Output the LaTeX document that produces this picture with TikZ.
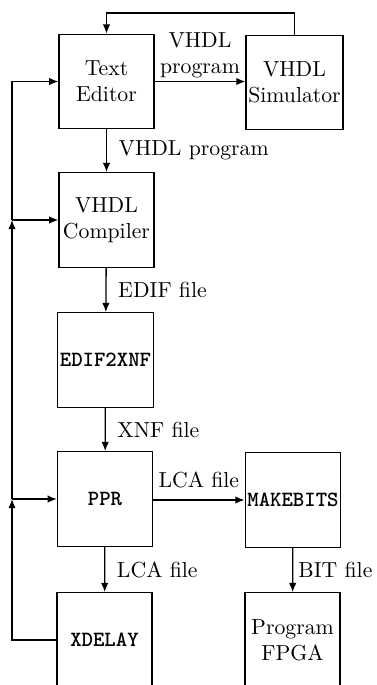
\documentclass[tikz,border=0pt]{standalone}
\usepackage{tikz}
\usetikzlibrary{arrows.meta,positioning,calc}

\begin{document}
\begin{tikzpicture}[x=0.46pt, y=-0.46pt,
    stage/.style={draw, line width=0.6pt, minimum width=43.7pt, minimum height=43.5pt, align=center, inner sep=1pt},
    tool/.style={stage, font=\ttfamily\bfseries},
    flow/.style={line width=0.6pt, -{Latex[length=4.2pt,width=3.4pt]}},
    wire/.style={line width=0.6pt}]
  \useasboundingbox (0,0) rectangle (376,685);
  \clip (0,0) rectangle (376,685);
  \node[stage] (editor) at (106.5,81.5) {Text\\Editor};
  \node[stage] (sim) at (294.5,82.5) {VHDL\\Simulator};
  \node[stage] (comp) at (106.5,220) {VHDL\\Compiler};
  \node[tool] (edif) at (105.5,360) {EDIF2XNF};
  \node[tool] (ppr) at (105,499) {PPR};
  \node[tool] (mkbits) at (293,500) {MAKEBITS};
  \node[tool] (xdelay) at (104.5,640) {XDELAY};
  \node[stage] (fpga) at (292.5,640) {Program\\FPGA};
  \coordinate (topcorner) at (294.5,13);
  \coordinate (jcomp) at (12,220);
  \coordinate (jppr) at (12,499);
  \draw[flow] (editor.east) -- node[above, align=center, inner sep=1.5pt] {VHDL\\program} (sim.west |- editor.east);
  \draw[flow] (sim.north) -- (topcorner) -| (editor.north);
  \draw[flow] (editor) -- node[right, xshift=2pt] {VHDL program} (comp);
  \draw[flow] (comp) -- node[right, xshift=2pt] {EDIF file} (edif);
  \draw[flow] (edif) -- node[right, xshift=2pt] {XNF file} (ppr);
  \draw[flow] (ppr) -- node[right, xshift=2pt] {LCA file} (xdelay);
  \draw[flow] (ppr.east |- mkbits) -- node[above, yshift=2pt] {LCA file} (mkbits);
  \draw[flow] (mkbits) -- node[right, xshift=-1pt] {BIT file} (fpga);
  \draw[flow] (xdelay.west) -| (jppr);
  \draw[flow] (jppr) -- (jcomp);
  \draw[flow] (jcomp) |- (editor.west);
  \draw[flow] (jppr) -- (ppr.west |- jppr);
  \draw[flow] (jcomp) -- (comp.west |- jcomp);
\end{tikzpicture}
\end{document}
